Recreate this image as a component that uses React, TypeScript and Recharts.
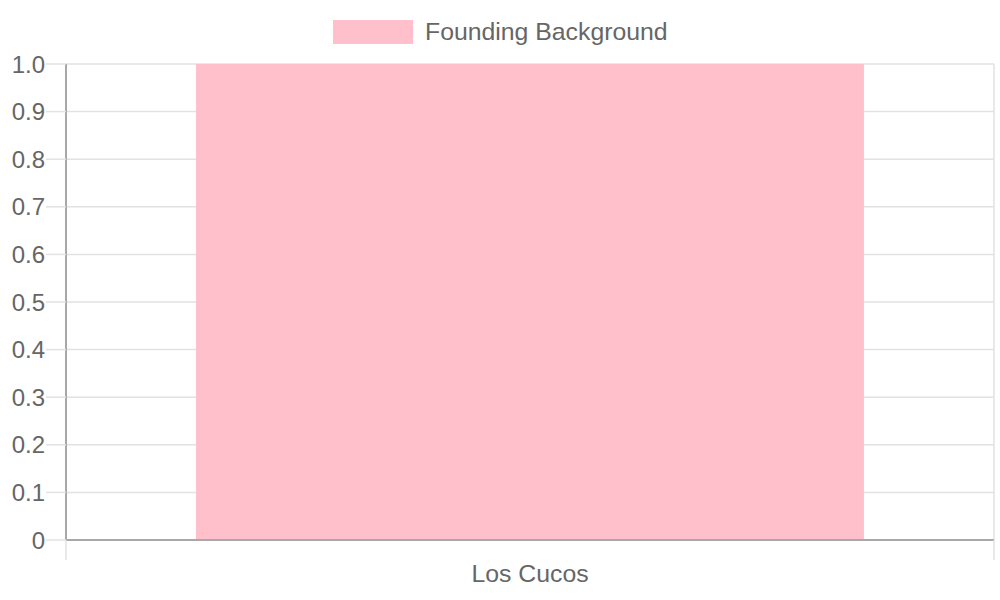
import React from 'react';
import { BarChart, Bar, XAxis, YAxis, CartesianGrid, Legend } from 'recharts';

const categories = ['Los Cucos'];
const seriesName = 'Founding Background';
const seriesValues = [1];
const yTicks = [0, 0.1, 0.2, 0.3, 0.4, 0.5, 0.6, 0.7, 0.8, 0.9, 1.0];

const data = categories.map((c, i) => ({ name: c, value: seriesValues[i] }));

const W = 1000;
const H = 600;
const PINK = '#FFC0CB';
const TEXT = '#666666';
const GRID = '#e2e2e2';
const AXIS = '#a8a8a8';
const PLOT_LEFT = 66;
const PLOT_RIGHT = 994;
const FONT = '"Liberation Sans", Arial, sans-serif';

const LegendContent = () => (
  <div style={{ height: 50, position: 'relative', width: W, fontFamily: FONT }}>
    <div style={{ position: 'absolute', left: 333, top: 20, width: 80, height: 24, background: PINK }} />
    <div style={{ position: 'absolute', left: 425, top: 17, fontSize: 24.8, color: TEXT, lineHeight: '30px', whiteSpace: 'nowrap' }}>
      {seriesName}
    </div>
  </div>
);

const XTick = (props: any) => {
  const { x, payload } = props;
  const half = (PLOT_RIGHT - PLOT_LEFT) / 2;
  const axisY = 540;
  return (
    <g>
      <line x1={x - half} x2={x - half} y1={axisY} y2={axisY + 20} stroke={GRID} strokeWidth={1.5} />
      <line x1={x + half} x2={x + half} y1={axisY} y2={axisY + 20} stroke={GRID} strokeWidth={1.5} />
      <text x={x} y={axisY + 42} textAnchor="middle" fill={TEXT} fontSize={24.8} fontFamily={FONT}>
        {payload.value}
      </text>
    </g>
  );
};

const YTick = (props: any) => {
  const { y, payload } = props;
  const v = payload.value;
  const label = v === 0 ? '0' : v.toFixed(1);
  return (
    <text x={45} y={y + 8.5} textAnchor="end" fill={TEXT} fontSize={24} fontFamily={FONT}>
      {label}
    </text>
  );
};

export default function App() {
  return (
    <div style={{ position: 'absolute', left: 0, top: 0, width: W, height: H, background: '#fff' }}>
      <BarChart
        width={W}
        height={H}
        data={data}
        margin={{ top: 14, right: W - PLOT_RIGHT, bottom: 0, left: 0 }}
        barCategoryGap="14%"
      >
        <Legend verticalAlign="top" align="left" content={<LegendContent />} wrapperStyle={{ top: 0, left: 0 }} />
        <CartesianGrid
          stroke={GRID}
          strokeWidth={1.5}
          horizontal={true}
          vertical={true}
          verticalCoordinatesGenerator={({ offset }: any) => [offset.left, offset.left + offset.width]}
        />
        <XAxis
          dataKey="name"
          height={60}
          tickLine={false}
          axisLine={{ stroke: AXIS, strokeWidth: 2 }}
          tick={<XTick />}
          interval={0}
        />
        <YAxis
          width={PLOT_LEFT}
          domain={[0, 1]}
          ticks={yTicks}
          tickSize={20}
          tickLine={{ stroke: GRID, strokeWidth: 1.5 }}
          axisLine={{ stroke: AXIS, strokeWidth: 2 }}
          tick={<YTick />}
          interval={0}
        />
        <Bar dataKey="value" name={seriesName} fill={PINK} isAnimationActive={false} />
      </BarChart>
    </div>
  );
}
